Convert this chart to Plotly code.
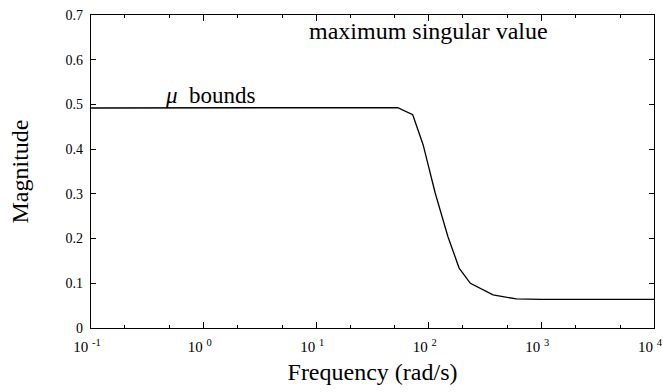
import plotly.graph_objects as go

# Frequency (rad/s) and magnitude of the mu-bounds curve
freq = [0.1, 1, 10, 40, 53, 72, 89, 114, 148, 186, 234, 372, 600, 1000, 3000, 10000]
magnitude = [0.492, 0.492, 0.492, 0.493, 0.493, 0.477, 0.41, 0.302, 0.204, 0.134, 0.10, 0.074, 0.065, 0.064, 0.064, 0.064]

x_tick_vals = [0.1, 1, 10, 100, 1000, 10000]
x_tick_text = ["10 <sup>-1</sup>", "10 <sup>0</sup>", "10 <sup>1</sup>", "10 <sup>2</sup>", "10 <sup>3</sup>", "10 <sup>4</sup>"]
y_tick_vals = [0, 0.1, 0.2, 0.3, 0.4, 0.5, 0.6, 0.7]
y_tick_text = ["0", "0.1", "0.2", "0.3", "0.4", "0.5", "0.6", "0.7"]

font_family = "Liberation Serif, Times New Roman, serif"

fig = go.Figure()
fig.add_trace(go.Scatter(x=freq, y=magnitude, mode="lines",
                         line=dict(color="black", width=1.3), showlegend=False))

fig.update_layout(
    width=663, height=392,
    margin=dict(l=91, r=9, t=15, b=64),
    paper_bgcolor="white", plot_bgcolor="white",
    font=dict(family=font_family, color="black", size=14),
    xaxis=dict(
        type="log", range=[-1.0005, 4.0005],
        tickvals=x_tick_vals, ticktext=x_tick_text,
        ticks="inside", ticklen=6, tickwidth=1, tickcolor="black",
        minor=dict(ticks="inside", ticklen=3, tickwidth=1, tickcolor="black", showgrid=False),
        showline=True, linecolor="black", linewidth=1.2, mirror="ticks",
        showgrid=False, zeroline=False, automargin=False,
        ticklabeloverflow="allow", ticklabelstandoff=5, ticklabelshift=-4,
        tickfont=dict(size=15, family=font_family),
        title=dict(text="Frequency (rad/s)", font=dict(size=24, family=font_family), standoff=9),
    ),
    yaxis=dict(
        range=[0, 0.7],
        tickvals=y_tick_vals, ticktext=y_tick_text,
        ticks="inside", ticklen=5, tickwidth=1, tickcolor="black",
        showline=True, linecolor="black", linewidth=1.2, mirror="ticks",
        showgrid=False, zeroline=False, automargin=False,
        ticklabelstandoff=4,
        tickfont=dict(size=14, family=font_family),
        title=dict(text="Magnitude", font=dict(size=24, family=font_family), standoff=30),
    ),
    annotations=[
        dict(x=2.0, y=0.664, xref="x", yref="y", text="maximum singular value",
             showarrow=False, font=dict(size=24, family=font_family)),
        dict(x=0.065, y=0.519, xref="x", yref="y", text="<i>μ</i>  bounds",
             showarrow=False, font=dict(size=23, family=font_family)),
    ],
)

fig.write_html("out.html")
